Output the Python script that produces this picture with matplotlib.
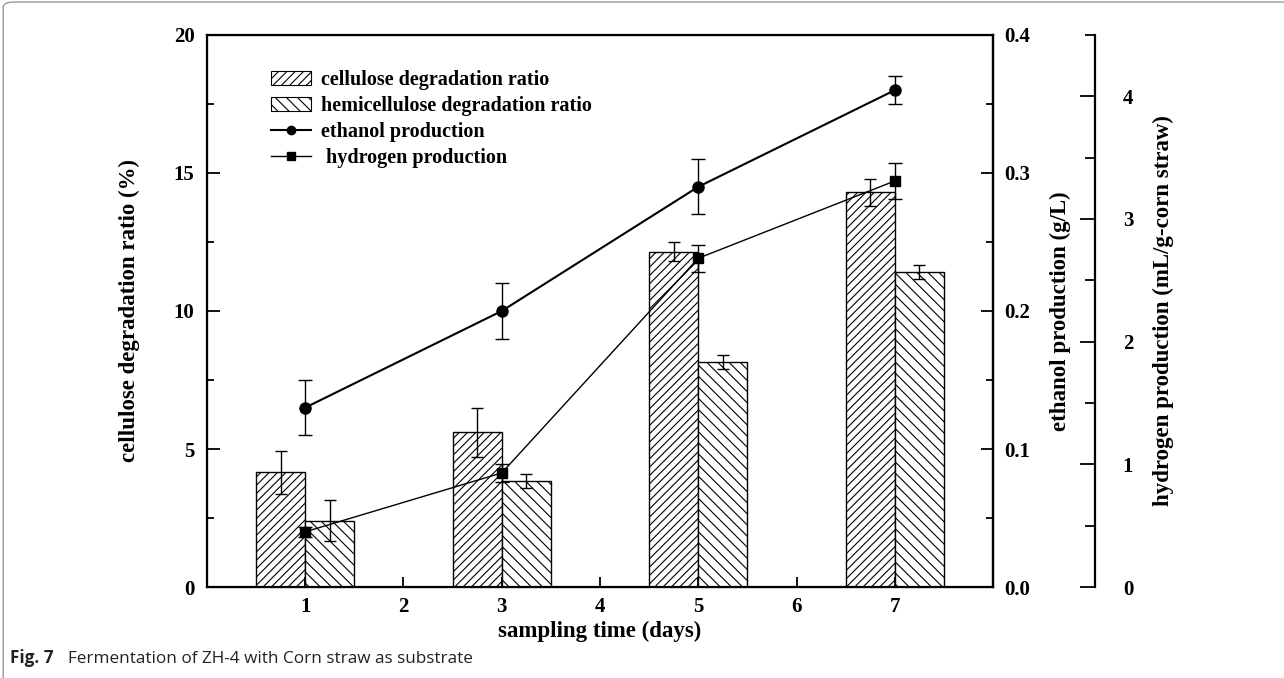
import matplotlib
matplotlib.use("Agg")
import matplotlib.pyplot as plt
import numpy as np
from matplotlib.patches import FancyBboxPatch, Patch
from matplotlib.lines import Line2D
from matplotlib.ticker import MultipleLocator

plt.rcParams['font.family'] = ['Liberation Serif', 'DejaVu Serif']
plt.rcParams['font.weight'] = 'bold'
plt.rcParams['hatch.linewidth'] = 0.8

# data
days = np.array([1, 3, 5, 7])
cellulose = [4.15, 5.6, 12.15, 14.3]
cellulose_err = [0.78, 0.9, 0.35, 0.5]
hemicellulose = [2.4, 3.85, 8.15, 11.4]
hemicellulose_err = [0.75, 0.25, 0.25, 0.25]
ethanol = [0.13, 0.20, 0.29, 0.36]
ethanol_err = [0.02, 0.02, 0.02, 0.01]
hydrogen = [0.45, 0.93, 2.68, 3.31]
hydrogen_err = [0.04, 0.07, 0.11, 0.15]

fig = plt.figure(figsize=(12.84, 6.78), dpi=100)
ax = fig.add_axes([0.1612, 0.1342, 0.6122, 0.8142])

w = 0.5
ax.bar(days - w/2, cellulose, w, color='white', edgecolor='black', hatch='////', lw=1,
       yerr=cellulose_err, error_kw=dict(ecolor='black', elinewidth=1, capsize=4, capthick=1))
ax.bar(days + w/2, hemicellulose, w, color='white', edgecolor='black', hatch='\\\\\\', lw=1,
       yerr=hemicellulose_err, error_kw=dict(ecolor='black', elinewidth=1, capsize=4, capthick=1))

ax.set_xlim(0, 8)
ax.set_ylim(0, 20)
ax.set_xticks(range(1, 8))
ax.yaxis.set_major_locator(MultipleLocator(5))
ax.yaxis.set_minor_locator(MultipleLocator(2.5))
ax.tick_params(axis='y', which='major', direction='in', length=9, width=1.3, labelsize=15, pad=9)
ax.tick_params(axis='y', which='minor', direction='in', length=5, width=1.3)
ax.tick_params(axis='x', which='major', direction='in', length=7, width=1.3, labelsize=15, pad=7)
for s in ax.spines.values():
    s.set_linewidth(1.6)
ax.set_xlabel('sampling time (days)', fontsize=16.5, fontweight='bold', labelpad=3)
ax.set_ylabel('cellulose degradation ratio (%)', fontsize=16.5, fontweight='bold', labelpad=24)

ax2 = ax.twinx()
ax2.errorbar(days, ethanol, yerr=ethanol_err, color='black', marker='o', markersize=8,
             lw=1.5, elinewidth=1, capsize=5, capthick=1)
ax2.set_ylim(0, 0.4)
ax2.yaxis.set_major_locator(MultipleLocator(0.1))
ax2.yaxis.set_minor_locator(MultipleLocator(0.05))
ax2.tick_params(axis='y', which='major', direction='in', length=9, width=1.3, labelsize=15, pad=8)
ax2.tick_params(axis='y', which='minor', direction='in', length=5, width=1.3)
ax2.yaxis.set_major_formatter(matplotlib.ticker.FormatStrFormatter('%.1f'))
ax2.spines['right'].set_linewidth(1.6)
ax2.set_ylabel('ethanol production (g/L)', fontsize=16.5, fontweight='bold', labelpad=14)

ax3 = ax.twinx()
ax3.spines['right'].set_position(('axes', 1.1298))
for k in ['top', 'left', 'bottom']:
    ax3.spines[k].set_visible(False)
ax3.spines['right'].set_linewidth(1.6)
ax3.errorbar(days, hydrogen, yerr=hydrogen_err, color='black', marker='s', markersize=7,
             lw=1, elinewidth=1, capsize=5, capthick=1)
ax3.set_ylim(0, 4.5)
ax3.yaxis.set_major_locator(MultipleLocator(1))
ax3.yaxis.set_minor_locator(MultipleLocator(0.5))
ax3.tick_params(axis='y', which='major', direction='in', length=11, width=1.3, labelsize=15, pad=20)
ax3.tick_params(axis='y', which='minor', direction='in', length=7, width=1.3)
ax3.set_ylabel('hydrogen production (mL/g-corn straw)', fontsize=16.5, fontweight='bold', labelpad=14)

handles = [
    Patch(facecolor='white', edgecolor='black', hatch='////', lw=0.8),
    Patch(facecolor='white', edgecolor='black', hatch='\\\\\\', lw=0.8),
    Line2D([], [], color='black', marker='o', markersize=6, lw=1.5),
    Line2D([], [], color='black', marker='s', markersize=6, lw=1),
]
labels = ['cellulose degradation ratio', 'hemicellulose degradation ratio',
          'ethanol production', ' hydrogen production']
ax.legend(handles, labels, loc='upper left', bbox_to_anchor=(0.068, 0.955), frameon=False,
          fontsize=14.5, handlelength=2.0, handletextpad=0.5, labelspacing=0.3, borderpad=0)

fig.text(0.008, 0.022, 'Fig. 7', family='Open Sans', fontweight='bold', fontsize=12.3, color='#222222')
fig.text(0.053, 0.022, 'Fermentation of ZH-4 with Corn straw as substrate', family='Open Sans',
         fontweight='normal', fontsize=12.3, color='#222222')

border = FancyBboxPatch((0.0025, -0.2), 1.2, 1.197, boxstyle='round,pad=0,rounding_size=0.008',
                        transform=fig.transFigure, fill=False, edgecolor='#999999', lw=1,
                        clip_on=False)
fig.patches.append(border)

fig.savefig('out.png', dpi=100)
